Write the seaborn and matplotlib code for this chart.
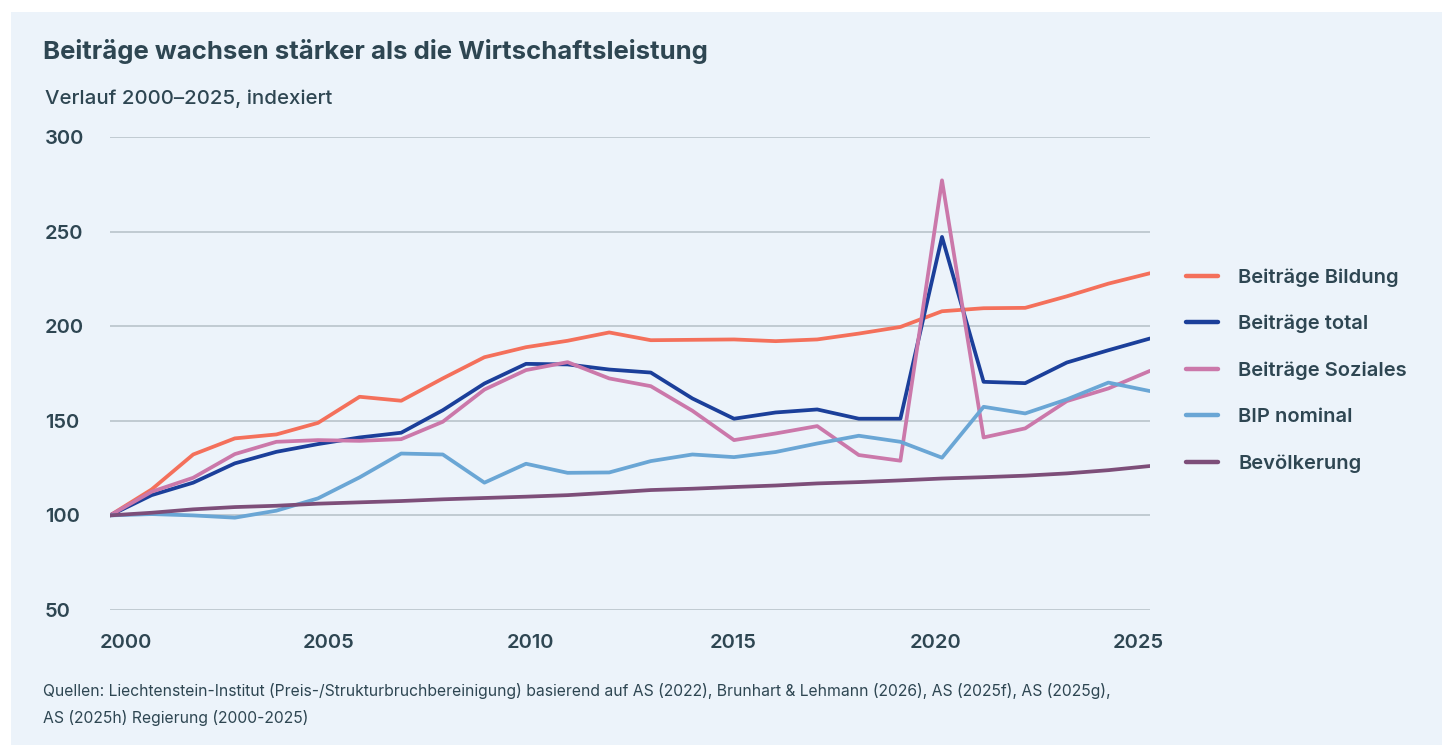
import numpy as np
import pandas as pd
import seaborn as sns
import matplotlib.pyplot as plt
import matplotlib.transforms as mtransforms
from matplotlib.patches import Rectangle

# Values (index, 2000 = 100)
years = list(range(2000, 2026))
bildung = [100, 113.7, 132.2, 140.7, 142.8, 148.9, 162.7, 160.6, 172.4, 183.6,
           188.9, 192.3, 196.7, 192.6, 192.8, 193.0, 192.1, 193.0, 196.1, 199.6,
           207.9, 209.5, 209.7, 215.8, 222.5, 228.0]
total = [100, 110.7, 117.3, 127.5, 133.6, 137.7, 141.2, 143.7, 155.6, 169.7,
         180.1, 179.8, 177.1, 175.5, 161.8, 151.1, 154.4, 156.0, 151.1, 151.1,
         247.2, 170.6, 169.9, 180.8, 187.3, 193.5]
soziales = [100, 112.5, 119.9, 132.4, 138.9, 139.8, 139.4, 140.3, 149.5, 166.5,
            176.8, 181.0, 172.4, 168.3, 155.3, 139.8, 143.3, 147.2, 131.9, 128.9,
            277.1, 141.2, 146.0, 160.4, 167.1, 176.4]
bip = [100, 100.7, 100.0, 98.8, 102.5, 109.0, 120.1, 132.7, 132.2, 117.3,
       127.3, 122.5, 122.7, 128.7, 132.2, 130.8, 133.5, 138.0, 142.1, 138.9,
       130.5, 157.4, 153.9, 161.3, 170.2, 165.7]
bevoelkerung = [100, 101.4, 103.2, 104.4, 105.1, 106.2, 106.9, 107.6, 108.5, 109.2,
                109.9, 110.7, 112.0, 113.4, 114.1, 115.0, 115.8, 116.9, 117.6, 118.5,
                119.5, 120.2, 121.0, 122.2, 123.9, 126.1]

series_names = ["Beiträge Bildung", "Beiträge total", "Beiträge Soziales",
                "BIP nominal", "Bevölkerung"]
colors = ["#F4705B", "#1B3F9A", "#CB78AA", "#6AA6D5", "#7D4E79"]
x_ticks = [2000, 2005, 2010, 2015, 2020, 2025]
y_ticks = [50, 100, 150, 200, 250, 300]

rows = []
for name, vals in zip(series_names, [bildung, total, soziales, bip, bevoelkerung]):
    for yr, v in zip(years, vals):
        rows.append({"Jahr": yr, "Index": v, "Reihe": name})
df = pd.DataFrame(rows)

sns.set_theme(style="white")
plt.rcParams["font.family"] = ["Inter", "DejaVu Sans"]

text_col = "#2E4652"
bg_col = "#ECF3FA"
grid_col = "#B9C3CB"

fig = plt.figure(figsize=(14.42, 7.45), dpi=100)
fig.patch.set_facecolor("white")
fig.patches.append(Rectangle((11 / 1442, 0), 1, 1 - 12 / 745, transform=fig.transFigure,
                             facecolor=bg_col, edgecolor="none", zorder=-10))

ax = fig.add_axes([110 / 1442, 1 - 610 / 745, 1040 / 1442, 473 / 745])
ax.set_facecolor("none")

sns.lineplot(data=df, x="Jahr", y="Index", hue="Reihe", hue_order=series_names,
             palette=colors, linewidth=2.7, ax=ax, legend=False)

ax.set_xlim(2000, 2025)
ax.set_ylim(50, 300)
ax.set_xticks(x_ticks)
ax.set_yticks(y_ticks)
ax.set_xticklabels([str(t) for t in x_ticks], fontsize=14.5, fontweight="semibold", color=text_col)
ax.set_yticklabels([str(t) for t in y_ticks], fontsize=14.5, fontweight="semibold", color=text_col)
for lab in ax.get_yticklabels():
    lab.set_horizontalalignment("left")
ax.tick_params(axis="y", length=0, pad=47)
ax.tick_params(axis="x", length=0, pad=17)

# year labels sit slightly inset from the plot edges, as in the original
for yr, lab in zip(x_ticks, ax.get_xticklabels()):
    dx = (16 - 28 * (yr - 2000) / 25) / 100
    lab.set_transform(lab.get_transform() + mtransforms.ScaledTranslation(dx, 0, fig.dpi_scale_trans))

ax.set_xlabel("")
ax.set_ylabel("")
for s in ax.spines.values():
    s.set_visible(False)
ax.grid(axis="y", color=grid_col, linewidth=1.2)
ax.grid(axis="x", visible=False)
ax.set_axisbelow(True)

# legend
handles = [plt.Line2D([], [], color=c, linewidth=3.2, solid_capstyle="round") for c in colors]
leg = fig.legend(handles, series_names, loc="upper left",
                 bbox_to_anchor=(1168 / 1442, 1 - 250 / 745), frameon=False,
                 handlelength=1.6, handletextpad=1.0, labelspacing=1.4,
                 prop={"size": 14.5, "weight": "semibold"})
for t in leg.get_texts():
    t.set_color(text_col)

fig.text(43 / 1442, 1 - 51 / 745, "Beiträge wachsen stärker als die Wirtschaftsleistung",
         fontsize=18.5, fontweight="bold", color=text_col, va="center", ha="left")
fig.text(45 / 1442, 1 - 99 / 745, "Verlauf 2000–2025, indexiert",
         fontsize=14.7, fontweight="medium", color=text_col, va="center", ha="left")
fig.text(43 / 1442, 1 - 691 / 745,
         "Quellen: Liechtenstein-Institut (Preis-/Strukturbruchbereinigung) basierend auf AS (2022), "
         "Brunhart & Lehmann (2026), AS (2025f), AS (2025g),",
         fontsize=11.3, color=text_col, va="center", ha="left")
fig.text(43 / 1442, 1 - 718 / 745, "AS (2025h) Regierung (2000-2025)",
         fontsize=11.3, color=text_col, va="center", ha="left")

fig.savefig("out.png", dpi=100, facecolor=fig.get_facecolor())
